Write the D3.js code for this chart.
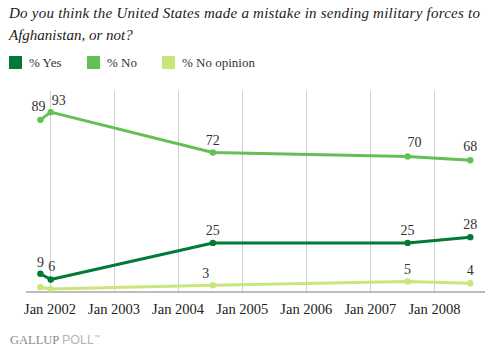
<!DOCTYPE html>
<html>
<head>
<meta charset="utf-8">
<script src="https://cdn.jsdelivr.net/npm/d3@7"></script>
<style>
  body { margin: 0; background: #fff; }
  svg { display: block; }
</style>
</head>
<body>
<div id="chart"></div>
<script>
// Poll dates and results
const dates = ['2001-11-10', '2002-01-08', '2004-07-20', '2007-08-04', '2008-07-26'];
const yesValues = [9, 6, 25, 25, 28];
const noValues = [89, 93, 72, 70, 68];
const noOpinionValues = [2, 1, 3, 5, 4];
const seriesNames = ['% Yes', '% No', '% No opinion'];
const tickYears = [2002, 2003, 2004, 2005, 2006, 2007, 2008];

const width = 492, height = 354;
const colors = ['#007b35', '#62c152', '#c8e679'];
const serif = 'Liberation Serif';
const parse = d3.timeParse('%Y-%m-%d');

const svg = d3.select('#chart').append('svg')
  .attr('width', width)
  .attr('height', height);

// Title
const title = svg.append('text')
  .attr('font-family', serif)
  .attr('font-style', 'italic')
  .attr('font-size', 15)
  .attr('fill', '#222');
title.append('tspan').attr('x', 9).attr('y', 18)
  .attr('textLength', 471)
  .attr('lengthAdjust', 'spacing')
  .text('Do you think the United States made a mistake in sending military forces to');
title.append('tspan').attr('x', 9).attr('y', 40)
  .text('Afghanistan, or not?');

// Legend
const legendX = [9, 87, 162];
const legend = svg.selectAll('.legend')
  .data(seriesNames)
  .enter().append('g')
  .attr('transform', (d, i) => 'translate(' + legendX[i] + ',56)');
legend.append('rect')
  .attr('width', 13).attr('height', 13)
  .attr('fill', (d, i) => colors[i]);
legend.append('text')
  .attr('x', 20).attr('y', 11)
  .attr('font-family', serif)
  .attr('font-size', 13)
  .attr('fill', '#333')
  .text(d => d);

// Scales
const x = d3.scaleTime()
  .domain([new Date(2001, 7, 20), new Date(2008, 9, 18)])
  .range([26, 485]);
const y = d3.scaleLinear()
  .domain([0, 104])
  .range([291, 91]);

// Vertical gridlines
const ticks = tickYears.map(yr => new Date(yr, 0, 1));
svg.selectAll('.grid')
  .data(ticks)
  .enter().append('line')
  .attr('x1', d => Math.round(x(d)) + 0.5)
  .attr('x2', d => Math.round(x(d)) + 0.5)
  .attr('y1', 91).attr('y2', 291)
  .attr('stroke', '#d0d0d0')
  .attr('stroke-width', 1);

// Baseline
svg.append('line')
  .attr('x1', 26).attr('x2', 485)
  .attr('y1', 292).attr('y2', 292)
  .attr('stroke', '#bdbdbd')
  .attr('stroke-width', 2);

// Tick labels
const xAxis = d3.axisBottom(x)
  .tickValues(ticks)
  .tickSize(0)
  .tickPadding(0)
  .tickFormat(d3.timeFormat('Jan %Y'));
const axisG = svg.append('g')
  .attr('transform', 'translate(0,304)')
  .call(xAxis);
axisG.select('.domain').remove();
axisG.selectAll('text')
  .attr('font-family', serif)
  .attr('font-size', 14.5)
  .attr('fill', '#222');

// Lines
const series = [yesValues, noValues, noOpinionValues];
const line = d3.line()
  .x((d, i) => x(parse(dates[i])))
  .y(d => y(d));

// label nudges [dx, dy] per series / point
const nudges = [
  [[0, -7], [1, -8], [0, -8], [0, -8], [0, -8]],
  [[-2, -9], [8, -7], [0, -8], [7, -9], [0, -9]],
  [[0, -8], [0, -8], [-7, -7], [0, -7], [0, -8]]
];

series.forEach(function(vals, s) {
  svg.append('path')
    .datum(vals)
    .attr('d', line)
    .attr('fill', 'none')
    .attr('stroke', colors[s])
    .attr('stroke-width', 3)
    .attr('stroke-linejoin', 'round');

  svg.selectAll('.pt' + s)
    .data(vals)
    .enter().append('circle')
    .attr('cx', (d, i) => x(parse(dates[i])))
    .attr('cy', d => y(d))
    .attr('r', 3.2)
    .attr('fill', colors[s]);

  // no-opinion values of the first two polls are not labelled
  svg.selectAll('.lbl' + s)
    .data(vals)
    .enter().append('text')
    .attr('x', (d, i) => x(parse(dates[i])) + nudges[s][i][0])
    .attr('y', (d, i) => y(d) + nudges[s][i][1])
    .attr('text-anchor', 'middle')
    .attr('font-family', serif)
    .attr('font-size', 14)
    .attr('fill', '#333')
    .text((d, i) => (s === 2 && i < 2) ? '' : d);
});

// Footer
const footer = svg.append('text')
  .attr('x', 10).attr('y', 344)
  .attr('font-size', 12.5);
footer.append('tspan')
  .attr('font-family', serif)
  .attr('fill', '#8a8a8a')
  .text('GALLUP ');
footer.append('tspan')
  .attr('font-family', 'Liberation Sans')
  .attr('fill', '#b5b5b5')
  .text('POLL');
footer.append('tspan')
  .attr('font-family', 'Liberation Sans')
  .attr('font-size', 6)
  .attr('dy', -5)
  .attr('fill', '#b5b5b5')
  .text('\u2122');
</script>
</body>
</html>
